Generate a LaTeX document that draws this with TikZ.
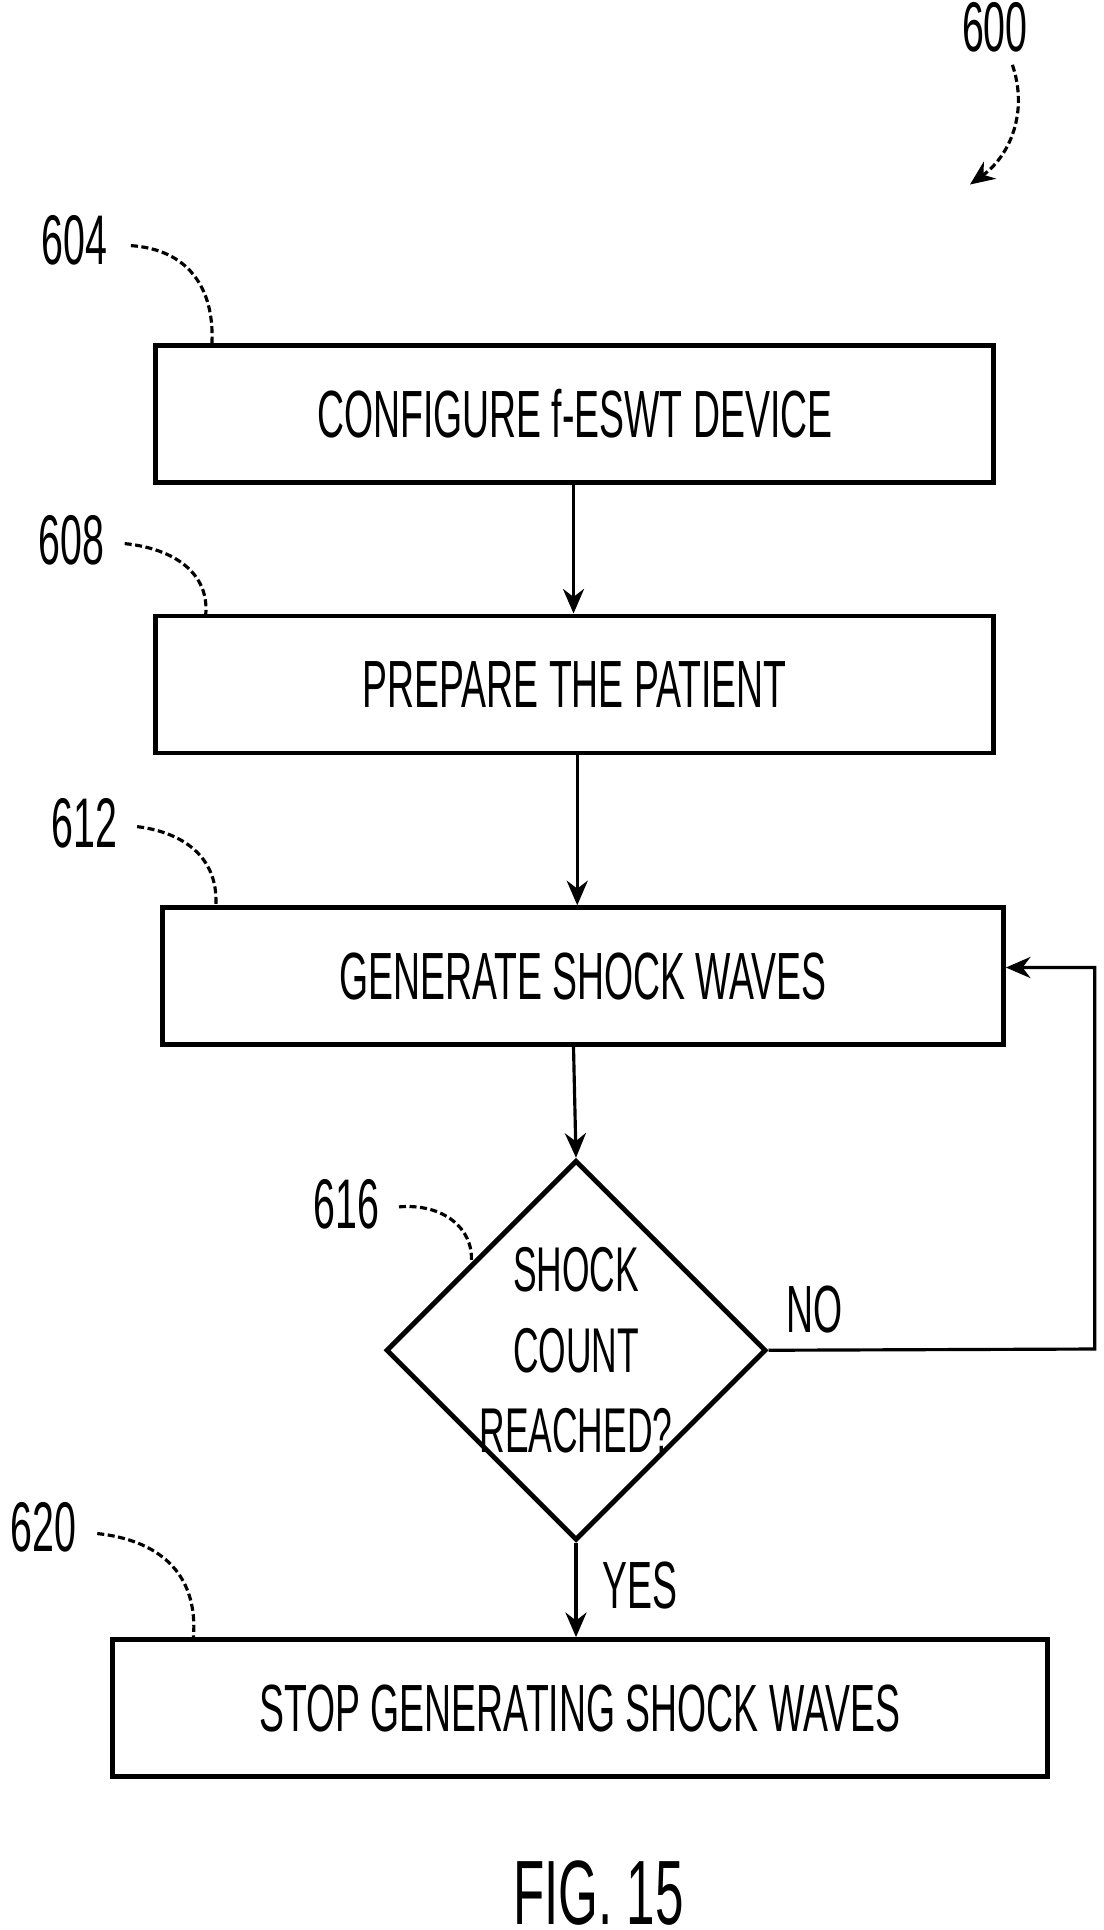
\documentclass[tikz,border=0pt]{standalone}
\usepackage{fontspec}
\setmainfont[FakeStretch=0.56]{Liberation Sans}
\usetikzlibrary{shapes.geometric,arrows.meta}
\begin{document}
\begin{tikzpicture}
    [x=0.012465cm, y=-0.012465cm, >={Stealth[length=7pt,width=6pt]},
     every node/.style={font=\fontsize{19}{22}\selectfont},
     box/.style={draw, line width=1.4pt, rectangle, minimum height=1.37cm},
     ref/.style={font=\fontsize{20}{22}\selectfont},
     lead/.style={line width=0.9pt, dash pattern=on 2pt off 1pt}]
  \useasboundingbox (0,0) rectangle (885,1548);

  \node (config) [box, minimum width=8.38cm] at (461,332) {CONFIGURE f-ESWT DEVICE};
  \node (prep) [box, minimum width=8.38cm] at (461,549) {PREPARE THE PATIENT};
  \node (gen) [box, minimum width=8.41cm] at (467.5,783) {GENERATE SHOCK WAVES};
  \node (check) [draw, line width=1.4pt, diamond, minimum width=3.8cm, minimum height=3.8cm,
    align=center, inner sep=-4pt, font=\fontsize{18}{23}\selectfont] at (462,1083) {SHOCK\\COUNT\\REACHED?};
  \node (stop) [box, minimum width=9.35cm] at (465,1370) {STOP GENERATING SHOCK WAVES};

  \coordinate (c1) at (878,1082);
  \coordinate (c2) at (878,776);

  \draw[->, line width=0.9pt] (config.south -| 460,0) -- (prep.north -| 460,0);
  \draw[->, line width=0.9pt] (prep.south -| 463,0) -- (gen.north -| 463,0);
  \draw[->, line width=0.9pt] (gen.south -| 460,0) -- (check.north);
  \draw[->, line width=0.9pt] (check.south) -- (stop.north -| check.south);
  \draw[->, line width=0.9pt] (check.east) -- (c1) -- (c2) -- (gen.east |- c2);
  \node (no) at (653,1050) {NO};
  \node (yes) at (513,1272) {YES};

  % reference numerals
  \node (n600) [ref] at (798,22) {600};
  \node (n604) [ref] at (60,193) {604};
  \node (n608) [ref] at (57,433) {608};
  \node (n612) [ref] at (68,660) {612};
  \node (n616) [ref] at (278,966) {616};
  \node (n620) [ref] at (35,1225) {620};
  \draw[lead, ->] (812,52) .. controls (825,90) and (810,125) .. (778,148);
  \draw[lead] (105,197) .. controls (150,200) and (172,230) .. (170,275);
  \draw[lead] (100,436) .. controls (140,440) and (168,460) .. (165,493);
  \draw[lead] (110,663) .. controls (150,668) and (176,690) .. (173,728);
  \draw[lead] (320,968) .. controls (355,965) and (380,985) .. (378,1012);
  \draw[lead] (78,1230) .. controls (125,1235) and (160,1260) .. (155,1315);

  \node (fig) [font=\fontsize{26}{28}\selectfont] at (480,1518) {FIG. 15};
\end{tikzpicture}
\end{document}
